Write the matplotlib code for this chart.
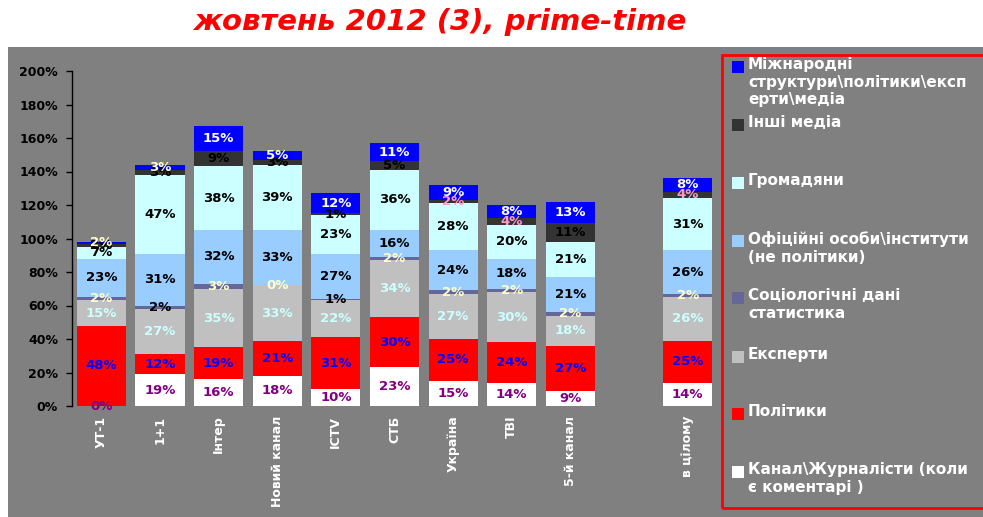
import numpy as np
import matplotlib.pyplot as plt
from matplotlib.patches import Rectangle

# Data (bottom -> top of each stacked bar), percent
channels = ['УТ-1', '1+1', 'Інтер', 'Новий канал', 'ICTV', 'СТБ',
            'Україна', 'ТВІ', '5-й канал', '', 'в цілому']
series = ['Канал\\Журналісти (коли\nє коментарі )',
          'Політики',
          'Експерти',
          'Соціологічні дані\nстатистика',
          'Офіційні особи\\інститути\n(не політики)',
          'Громадяни',
          'Інші медіа',
          'Міжнародні\nструктури\\політики\\експ\nерти\\медіа']
journalists = [0, 19, 16, 18, 10, 23, 15, 14, 9, None, 14]
politicians = [48, 12, 19, 21, 31, 30, 25, 24, 27, None, 25]
experts     = [15, 27, 35, 33, 22, 34, 27, 30, 18, None, 26]
sociology   = [2, 2, 3, 0, 1, 2, 2, 2, 2, None, 2]
officials   = [23, 31, 32, 33, 27, 16, 24, 18, 21, None, 26]
citizens    = [7, 47, 38, 39, 23, 36, 28, 20, 21, None, 31]
other_media = [1.6, 3, 9, 3, 1, 5, 2, 4, 11, None, 4]
internat    = [1.6, 3, 15, 5, 12, 11, 9, 8, 13, None, 8]
values = [journalists, politicians, experts, sociology, officials,
          citizens, other_media, internat]

colors = ['#FFFFFF', '#FF0000', '#C0C0C0', '#666699', '#99CCFF',
          '#CCFFFF', '#333333', '#0000FF']
label_colors = ['#800080', '#0000FF', '#CCFFFF', '#FFFFCC', '#000000',
                '#000000', '#000000', '#FFFFFF']
# a few labels differ from their series colour
label_override = {(3, 1): '#000000', (3, 4): '#000000',
                  (6, 6): '#FF99CC', (6, 7): '#FF99CC', (6, 10): '#FF99CC',
                  (7, 0): '#FFFFCC', (7, 1): '#FFFFCC', (7, 3): '#FFFFCC'}

W, H = 983, 517
fig = plt.figure(figsize=(W / 100, H / 100), dpi=100)
fig.patch.set_facecolor('white')
fig.add_artist(Rectangle((8 / W, 0), 1, 1 - 47 / H, transform=fig.transFigure,
                         facecolor='#808080', edgecolor='none', zorder=0))

fig.text(440 / W, 1 - 22 / H, 'жовтень 2012 (3), prime-time', color='#FF0000',
         fontsize=21, fontweight='bold', fontstyle='italic',
         ha='center', va='center')

ax = fig.add_axes([72 / W, 1 - 406 / H, 645 / W, 335 / H])
ax.set_facecolor('none')

x = np.arange(len(channels))
bottom = np.zeros(len(channels))
for i, vals in enumerate(values):
    for j, v in enumerate(vals):
        if v is None:
            continue
        ax.bar(x[j], v, width=0.84, bottom=bottom[j], color=colors[i],
               edgecolor='none', zorder=2)
        c = label_override.get((i, j), label_colors[i])
        ax.text(x[j], bottom[j] + v / 2, f'{v:.0f}%', color=c, fontsize=9.5,
                fontweight='bold', ha='center', va='center', zorder=3,
                clip_on=False)
        bottom[j] += v

ax.set_xlim(-0.5, len(channels) - 0.5)
ax.set_ylim(0, 200)
ax.set_yticks(np.arange(0, 201, 20))
ax.set_yticklabels([f'{t}%' for t in range(0, 201, 20)], fontsize=9,
                   fontweight='bold', color='black')
ax.set_xticks(x)
ax.set_xticklabels(channels, rotation=90, fontsize=9, fontweight='bold',
                   color='white', va='top', ha='center')
ax.tick_params(axis='x', length=0, pad=7)
ax.tick_params(axis='y', length=4, width=1, color='black', pad=6)
for s in ['top', 'right', 'bottom']:
    ax.spines[s].set_visible(False)
ax.spines['left'].set_color('black')
ax.spines['left'].set_linewidth(1)

# legend box
fig.add_artist(Rectangle((722 / W, 1 - 508 / H), 270 / W, 453 / H,
                         transform=fig.transFigure, facecolor='none',
                         edgecolor='#FF0000', linewidth=2, zorder=5))
leg_y = [67, 125, 183, 241, 298, 357, 414, 472]
for k, yy in enumerate(leg_y):
    i = len(series) - 1 - k
    fig.add_artist(Rectangle((732 / W, 1 - (yy + 6) / H), 12 / W, 12 / H,
                             transform=fig.transFigure, facecolor=colors[i],
                             edgecolor='none', zorder=5))
    fig.text(748 / W, 1 - (yy - 10) / H, series[i], color='white',
             fontsize=11, fontweight='bold', ha='left', va='top',
             linespacing=1.22, zorder=6)

fig.savefig('out.png', dpi=100)
plt.close(fig)
